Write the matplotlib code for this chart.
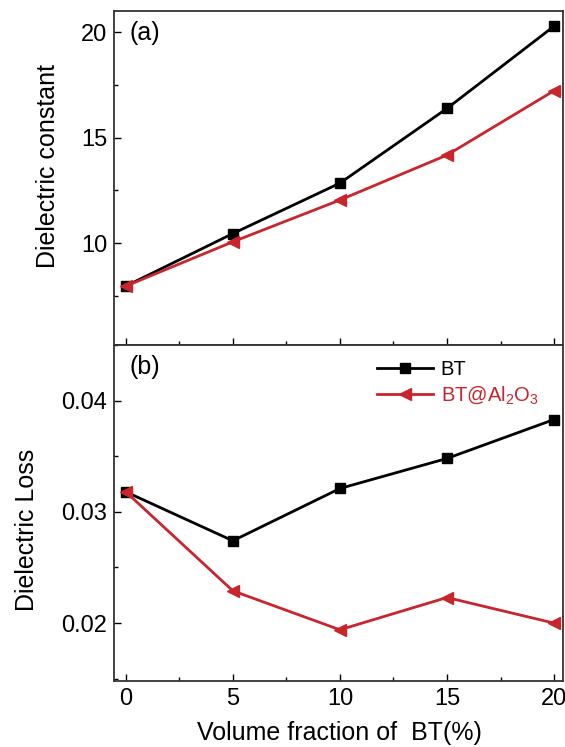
import matplotlib.pyplot as plt
from matplotlib.ticker import MultipleLocator

plt.rcParams['font.family'] = ['Liberation Sans', 'DejaVu Sans']
plt.rcParams['mathtext.fontset'] = 'custom'
plt.rcParams['mathtext.rm'] = 'Liberation Sans'

# volume fraction of BT (%)
fraction = [0, 5, 10, 15, 20]

# (a) dielectric constant
eps_bt = [7.96, 10.45, 12.84, 16.38, 20.28]
eps_bt_al2o3 = [7.96, 10.06, 12.04, 14.17, 17.22]

# (b) dielectric loss
loss_bt = [0.0318, 0.0274, 0.0321, 0.0348, 0.0383]
loss_bt_al2o3 = [0.0318, 0.0229, 0.0194, 0.0223, 0.0200]

red = '#c8252c'

fig = plt.figure(figsize=(5.65, 7.47), dpi=100)
ax1 = fig.add_axes([0.2018, 0.5382, 0.7947, 0.4471])
ax2 = fig.add_axes([0.2018, 0.0884, 0.7947, 0.4498], sharex=ax1)

####### (a)
ax1.plot(fraction, eps_bt, color='black', marker='s', markersize=7, lw=2, label='BT')
ax1.plot(fraction, eps_bt_al2o3, color=red, marker='<', markersize=8, lw=2, label='BT@Al$_2$O$_3$')
ax1.set_ylim(5.17, 21.0)
ax1.yaxis.set_major_locator(MultipleLocator(5))
ax1.yaxis.set_minor_locator(MultipleLocator(2.5))
ax1.set_ylabel('Dielectric constant', fontsize=18)
ax1.yaxis.set_label_coords(-0.12, 0.536)
ax1.text(0.035, 0.97, '(a)', transform=ax1.transAxes, fontsize=18, va='top', ha='left')
plt.setp(ax1.get_xticklabels(), visible=False)

####### (b)
ax2.plot(fraction, loss_bt, color='black', marker='s', markersize=7, lw=2, label='BT')
ax2.plot(fraction, loss_bt_al2o3, color=red, marker='<', markersize=8, lw=2, label='BT@Al$_2$O$_3$')
ax2.set_ylim(0.0148, 0.0450)
ax2.yaxis.set_major_locator(MultipleLocator(0.01))
ax2.yaxis.set_minor_locator(MultipleLocator(0.005))
ax2.set_ylabel('Dielectric Loss', fontsize=18)
ax2.yaxis.set_label_coords(-0.168, 0.449)
ax2.text(0.035, 0.97, '(b)', transform=ax2.transAxes, fontsize=18, va='top', ha='left')
ax2.set_xlim(-0.55, 20.42)
ax2.xaxis.set_major_locator(MultipleLocator(5))
ax2.xaxis.set_minor_locator(MultipleLocator(2.5))
ax2.set_xlabel('Volume fraction of  BT(%)', fontsize=18)
ax2.xaxis.set_label_coords(0.503, -0.12)

leg = ax2.legend(loc='upper right', bbox_to_anchor=(0.985, 1.01), frameon=False,
                 fontsize=14.5, handlelength=2.8, handletextpad=0.35, labelspacing=0.3)
leg.get_texts()[1].set_color(red)

for ax in (ax1, ax2):
    ax.tick_params(which='both', direction='in', top=False, right=False, labelsize=17)
    ax.tick_params(which='major', length=5, width=1, pad=5)
    ax.tick_params(which='minor', length=3, width=1)
    for s in ax.spines.values():
        s.set_linewidth(1.3)
        s.set_color('#333333')

fig.savefig('out.png', dpi=100)
